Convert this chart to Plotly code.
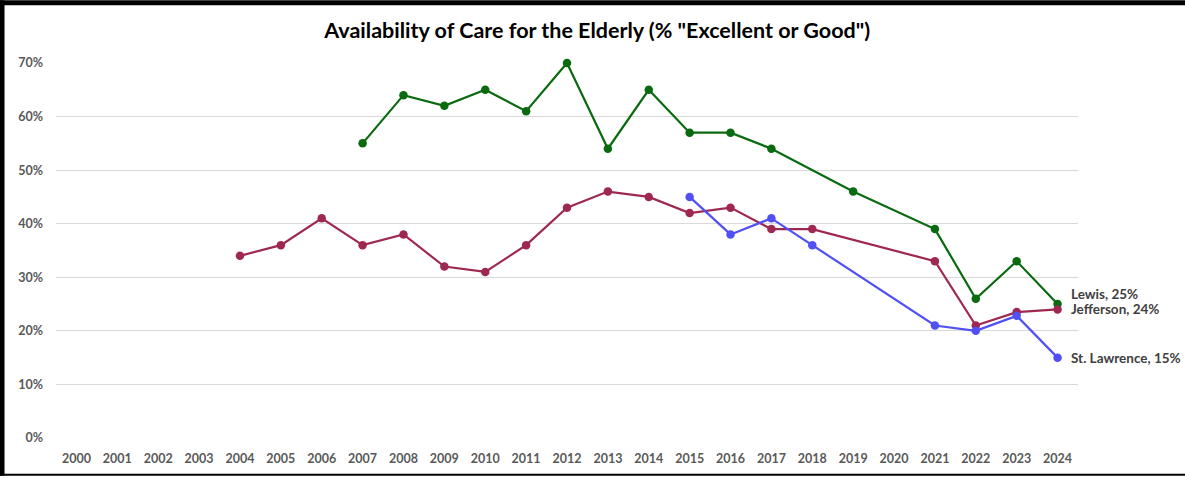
import plotly.graph_objects as go

years = [str(y) for y in range(2000, 2025)]

lewis_years = ['2007', '2008', '2009', '2010', '2011', '2012', '2013', '2014', '2015',
               '2016', '2017', '2019', '2021', '2022', '2023', '2024']
lewis_vals = [0.55, 0.64, 0.62, 0.65, 0.61, 0.70, 0.54, 0.65, 0.57,
              0.57, 0.54, 0.46, 0.39, 0.26, 0.33, 0.25]

jeff_years = ['2004', '2005', '2006', '2007', '2008', '2009', '2010', '2011', '2012', '2013',
              '2014', '2015', '2016', '2017', '2018', '2021', '2022', '2023', '2024']
jeff_vals = [0.34, 0.36, 0.41, 0.36, 0.38, 0.32, 0.31, 0.36, 0.43, 0.46,
             0.45, 0.42, 0.43, 0.39, 0.39, 0.33, 0.21, 0.235, 0.24]

stl_years = ['2015', '2016', '2017', '2018', '2021', '2022', '2023', '2024']
stl_vals = [0.45, 0.38, 0.41, 0.36, 0.21, 0.20, 0.228, 0.15]

series = [
    ('Lewis', lewis_years, lewis_vals, '#0a6a0f', '25%'),
    ('Jefferson', jeff_years, jeff_vals, '#9e2850', '24%'),
    ('St. Lawrence', stl_years, stl_vals, '#5050f5', '15%'),
]

W, H = 1185, 478
ML, MR, MT, MB = 56, 107, 63, 38
PW, PH = W - ML - MR, H - MT - MB

fig = go.Figure()
for name, xs, ys, col, lab in series:
    fig.add_trace(go.Scatter(
        x=xs, y=ys, mode='lines+markers', name=name,
        line=dict(color=col, width=2.2),
        marker=dict(color=col, size=8.5),
        cliponaxis=False,
        hovertemplate='%{x}: %{y:.0%}<extra>' + name + '</extra>',
    ))

# end-of-line labels (x given as category index)
label_shift = {'Lewis': 10, 'Jefferson': 0, 'St. Lawrence': 0}
for name, xs, ys, col, lab in series:
    fig.add_annotation(
        x=years.index(xs[-1]), y=ys[-1], text=f'{name}, {lab}', showarrow=False,
        xanchor='left', yanchor='middle', xshift=11, yshift=label_shift[name],
        font=dict(family='Lato', size=13.5, color='#404040', weight='bold'),
    )

# black frame on left/top/bottom, as in the screenshot
def px_x(p):
    return (p - ML) / PW

def px_y(p):
    return 1 - (p - MT) / PH

frame = dict(type='rect', xref='paper', yref='paper', fillcolor='black',
             line=dict(width=0), layer='above')
fig.add_shape(**frame, x0=px_x(0), x1=px_x(4.5), y0=px_y(H), y1=px_y(0))
fig.add_shape(**frame, x0=px_x(0), x1=px_x(W), y0=px_y(5), y1=px_y(0))
fig.add_shape(**frame, x0=px_x(0), x1=px_x(W), y0=px_y(H), y1=px_y(H - 2))

fig.update_layout(
    width=W, height=H,
    margin=dict(l=ML, r=MR, t=MT, b=MB),
    paper_bgcolor='white', plot_bgcolor='white',
    showlegend=False,
    title=dict(text='Availability of Care for the Elderly (% "Excellent or Good")',
               x=0.504, xanchor='center', y=1 - 30 / H, yanchor='middle',
               font=dict(family='Lato', size=21.5, color='black', weight='bold')),
    xaxis=dict(type='category', categoryorder='array', categoryarray=years,
               range=[-0.5, 24.5], showgrid=False, showline=False, ticks='',
               ticklabelstandoff=11,
               tickfont=dict(family='Lato', size=12.5, color='#595959', weight='bold')),
    yaxis=dict(range=[0, 0.70], dtick=0.1, tickformat='.0%', showgrid=True,
               gridcolor='#d9d9d9', gridwidth=1, zeroline=False, showline=False,
               ticklabelstandoff=12,
               tickfont=dict(family='Lato', size=12.5, color='#595959', weight='bold')),
)

fig.write_html('out.html', config={'displayModeBar': False},
               post_script="document.body.style.margin='0px';")
